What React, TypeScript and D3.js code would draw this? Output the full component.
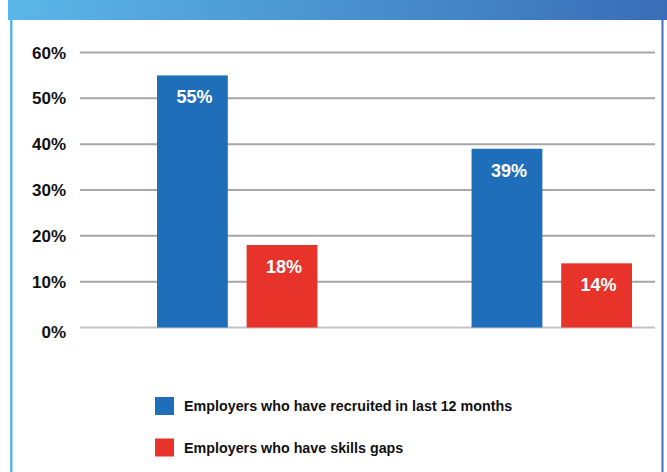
import React from "react";
import * as d3 from "d3";

const categories = ["Group A", "Group B"];
const seriesNames = [
  "Employers who have recruited in last 12 months",
  "Employers who have skills gaps",
];
const recruited = [55, 39];
const skillsGaps = [18, 14];
const yTicks = [0, 10, 20, 30, 40, 50, 60];
const colors = ["#1f6eb9", "#e8332b"];

const W = 667;
const H = 472;
const FONT = "'Liberation Sans', Arial, Helvetica, sans-serif";

export default function App() {
  const y = d3.scaleLinear().domain([0, 60]).range([327.5, 52.5]);
  const x0 = d3.scaleBand<string>().domain(categories).range([157, 632]).paddingInner(0.49).paddingOuter(0);
  const x1 = d3.scaleBand<number>().domain([0, 1]).range([0, x0.bandwidth()]).paddingInner(0.21).paddingOuter(0);
  const series = [recruited, skillsGaps];

  return (
    <svg width={W} height={H} style={{ position: "absolute", left: 0, top: 0, background: "#fff" }} fontFamily={FONT}>
      <defs>
        <linearGradient id="hdr" x1="0" x2="1" y1="0" y2="0">
          <stop offset="0%" stopColor="#5bb7e8" />
          <stop offset="100%" stopColor="#396db6" />
        </linearGradient>
      </defs>
      <rect x={8} y={0} width={W - 8} height={20} fill="url(#hdr)" />
      <rect x={10} y={20} width={2.5} height={H - 20} fill="#5cb6e6" />
      <rect x={661.5} y={20} width={2} height={H - 20} fill="#3a72b8" />

      {yTicks.map((t) => (
        <g key={t}>
          <line
            x1={80}
            x2={655}
            y1={y(t)}
            y2={y(t)}
            stroke={t === 0 ? "#c4c4c4" : "#a6a6a6"}
            strokeWidth={2}
          />
          <text
            x={66}
            y={y(t) + (t === 0 ? 4 : 0)}
            dy="0.36em"
            textAnchor="end"
            fontSize={17}
            fontWeight="bold"
            fill="#111"
          >
            {t}%
          </text>
        </g>
      ))}

      {categories.map((c, ci) => (
        <g key={c} transform={`translate(${x0(c)},0)`}>
          {series.map((s, si) => {
            const bx = x1(si)!;
            const bw = x1.bandwidth();
            const top = y(s[ci]);
            return (
              <g key={si}>
                <rect x={bx} y={top} width={bw} height={y(0) - top} fill={colors[si]} />
                <text
                  x={bx + bw / 2 + 2}
                  y={top + 28}
                  textAnchor="middle"
                  fontSize={18}
                  fontWeight="bold"
                  fill="#fff"
                >
                  {s[ci]}%
                </text>
              </g>
            );
          })}
        </g>
      ))}

      {seriesNames.map((n, i) => (
        <g key={n} transform={`translate(155,${397 + i * 41.5})`}>
          <rect x={0} y={0} width={19} height={18} fill={colors[i]} />
          <text x={29} y={14} fontSize={14.3} fontWeight="bold" fill="#111">
            {n}
          </text>
        </g>
      ))}
    </svg>
  );
}
